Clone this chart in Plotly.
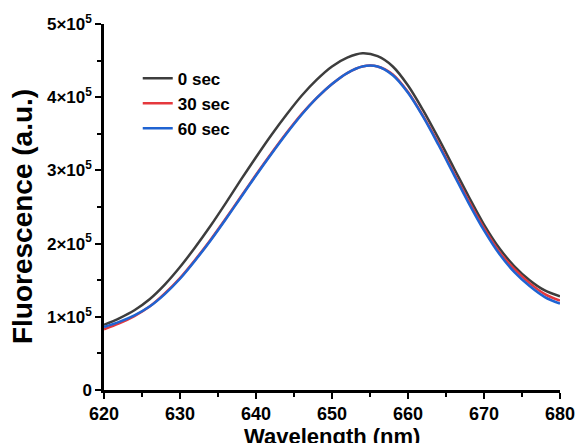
import plotly.graph_objects as go

wavelength = [620, 622, 624, 626, 628, 630, 632, 634, 636, 638, 640, 642, 644, 646, 648, 650,
              652, 654, 656, 658, 660, 662, 664, 666, 668, 670, 672, 674, 676, 678, 680]

sec0 = [0.89, 0.98, 1.09, 1.24, 1.44, 1.68, 1.95, 2.24, 2.55, 2.87, 3.18, 3.48, 3.76, 4.02, 4.24, 4.42,
        4.54, 4.60, 4.56, 4.42, 4.16, 3.82, 3.44, 3.04, 2.64, 2.26, 1.94, 1.69, 1.50, 1.36, 1.28]
sec30 = [0.83, 0.91, 1.01, 1.14, 1.32, 1.53, 1.78, 2.05, 2.34, 2.64, 2.94, 3.23, 3.51, 3.77, 3.99, 4.18,
         4.33, 4.42, 4.42, 4.31, 4.07, 3.74, 3.37, 2.97, 2.58, 2.21, 1.89, 1.65, 1.46, 1.31, 1.22]
sec60 = [0.86, 0.93, 1.02, 1.14, 1.31, 1.52, 1.77, 2.04, 2.33, 2.63, 2.93, 3.22, 3.50, 3.76, 3.99, 4.18,
         4.33, 4.42, 4.42, 4.30, 4.06, 3.73, 3.35, 2.95, 2.55, 2.18, 1.86, 1.61, 1.42, 1.27, 1.18]

labels = ["0 sec", "30 sec", "60 sec"]
colors = ["#3d3d3d", "#e5383d", "#1f63d2"]
series = [sec0, sec30, sec60]

x_title = "Wavelength (nm)"
y_title = "Fluorescence (a.u.)"
y_tickvals = [0, 1e5, 2e5, 3e5, 4e5, 5e5]
y_ticktext = ["0", "1×10<sup>5</sup>", "2×10<sup>5</sup>", "3×10<sup>5</sup>", "4×10<sup>5</sup>", "5×10<sup>5</sup>"]
y_minor = [5e4, 1.5e5, 2.5e5, 3.5e5, 4.5e5]
x_tickvals = [620, 630, 640, 650, 660, 670, 680]

fig = go.Figure()
for name, col, vals in zip(labels, colors, series):
    fig.add_trace(go.Scatter(
        x=wavelength, y=[v * 1e5 for v in vals], mode="lines", name=name,
        line=dict(color=col, width=2.5, shape="spline", smoothing=0.9),
    ))

font_family = "Arial, Liberation Sans, sans-serif"

fig.update_layout(
    width=578, height=443,
    margin=dict(l=104, r=18, t=24, b=53),
    paper_bgcolor="white", plot_bgcolor="white",
    font=dict(family=font_family, color="black"),
    showlegend=True,
    legend=dict(x=0.074, y=0.90, xanchor="left", yanchor="top",
                bgcolor="rgba(0,0,0,0)", font=dict(size=17, family=font_family, weight="bold"),
                tracegroupgap=0),
    annotations=[
        dict(text=x_title, xref="paper", yref="paper", x=0.5, y=-0.126,
             xanchor="center", yanchor="middle", showarrow=False,
             font=dict(size=22, family=font_family, weight="bold", color="black")),
        dict(text=y_title, xref="paper", yref="paper", x=-0.18, y=0.475, textangle=-90,
             xanchor="center", yanchor="middle", showarrow=False,
             font=dict(size=28, family=font_family, weight="bold", color="black")),
    ],
)

fig.update_xaxes(
    range=[620, 680], tickvals=x_tickvals, showgrid=False, zeroline=False, automargin=False,
    showline=True, linecolor="black", linewidth=2.5,
    ticks="outside", ticklen=6, tickwidth=2, tickcolor="black",
    minor=dict(ticks="outside", ticklen=4, tickwidth=2, tickcolor="black", dtick=5, showgrid=False),
    tickfont=dict(size=18, family=font_family, weight="bold"),
)
fig.update_yaxes(
    range=[0, 5e5], tickvals=y_tickvals, ticktext=y_ticktext, showgrid=False, zeroline=False, automargin=False,
    showline=True, linecolor="black", linewidth=2.5,
    ticks="outside", ticklen=6, tickwidth=2, tickcolor="black",
    minor=dict(ticks="outside", ticklen=4, tickwidth=2, tickcolor="black", tickvals=y_minor, showgrid=False),
    tickfont=dict(size=17, family=font_family, weight="bold"),
)

fig.write_html("out.html", config={"displayModeBar": False},
               post_script="document.body.style.margin='0px';")
